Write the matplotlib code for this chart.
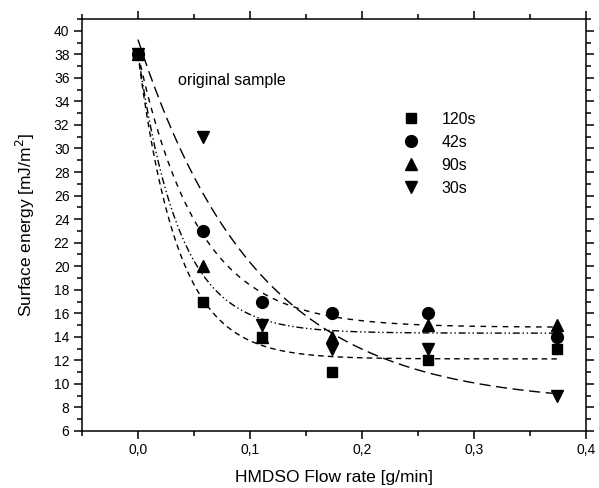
import numpy as np
import matplotlib
matplotlib.use("Agg")
import matplotlib.pyplot as plt
from matplotlib.ticker import MultipleLocator, FuncFormatter

plt.rcParams['font.family'] = ['Liberation Sans', 'DejaVu Sans']

flow = [0.0, 0.058, 0.111, 0.173, 0.259, 0.374]
s120 = [38, 17, 14, 11, 12, 13]
s42 = [38, 23, 17, 16, 16, 14]
s90 = [38, 20, 14, 14, 15, 15]
s30 = [38, 31, 15, 13, 13, 9]
labels = ['120s', '42s', '90s', '30s']
markers = ['s', 'o', '^', 'v']
msizes = [7.5, 8.5, 8.5, 8.5]
dashes = [(4, 3), (4, 4), (5, 2, 1, 2, 1, 2), (8, 4)]


def expfit(x, y):
    x = np.asarray(x, float)
    y = np.asarray(y, float)
    best = None
    for t in np.linspace(0.005, 0.5, 2000):
        M = np.column_stack([np.ones_like(x), np.exp(-x / t)])
        coef, *_ = np.linalg.lstsq(M, y, rcond=None)
        r = np.sum((M @ coef - y) ** 2)
        if best is None or r < best[0]:
            best = (r, coef, t)
    _, (y0, A), t = best
    return lambda xx: y0 + A * np.exp(-xx / t)


fig = plt.figure(figsize=(5.99, 4.88), dpi=100)
ax = fig.add_axes([82 / 599, 1 - 431 / 488, (586 - 82) / 599, (431 - 19) / 488])

xs = np.linspace(0, max(flow), 300)
for ys, lab, m, ms, d in zip([s120, s42, s90, s30], labels, markers, msizes, dashes):
    f = expfit(flow, ys)
    ax.plot(xs, f(xs), color='black', lw=1.0, dashes=d)
for ys, lab, m, ms in zip([s120, s42, s90, s30], labels, markers, msizes):
    ax.plot(flow, ys, linestyle='none', marker=m, ms=ms, color='black',
            label=lab, zorder=3)

ax.set_xlim(-0.05, 0.4)
ax.set_ylim(6, 41)
ax.xaxis.set_major_locator(MultipleLocator(0.1))
ax.xaxis.set_minor_locator(MultipleLocator(0.05))
ax.yaxis.set_major_locator(MultipleLocator(2))
ax.yaxis.set_minor_locator(MultipleLocator(1))
ax.xaxis.set_major_formatter(FuncFormatter(lambda v, p: f"{v:.1f}".replace('.', ',')))
ax.tick_params(which='both', direction='out', top=True, right=True,
               labeltop=False, labelright=False, width=1.1, labelsize=10)
ax.tick_params(which='major', length=6, pad=3)
ax.tick_params(which='minor', length=3.5)
for sp in ax.spines.values():
    sp.set_linewidth(1.1)

ax.set_xlabel('HMDSO Flow rate [g/min]', fontsize=12.5, labelpad=9)
ax.set_ylabel('Surface energy [mJ/m$^2$]', fontsize=12.5, labelpad=12)

ax.text(0.036, 35.8, 'original sample', fontsize=11.5, va='center', ha='left')

ax.legend(loc='upper left', bbox_to_anchor=(0.625, 0.79), frameon=False,
          fontsize=11.5, handletextpad=1.4, labelspacing=0.5,
          handlelength=1.0, borderaxespad=0)

fig.savefig('out.png', dpi=100)
